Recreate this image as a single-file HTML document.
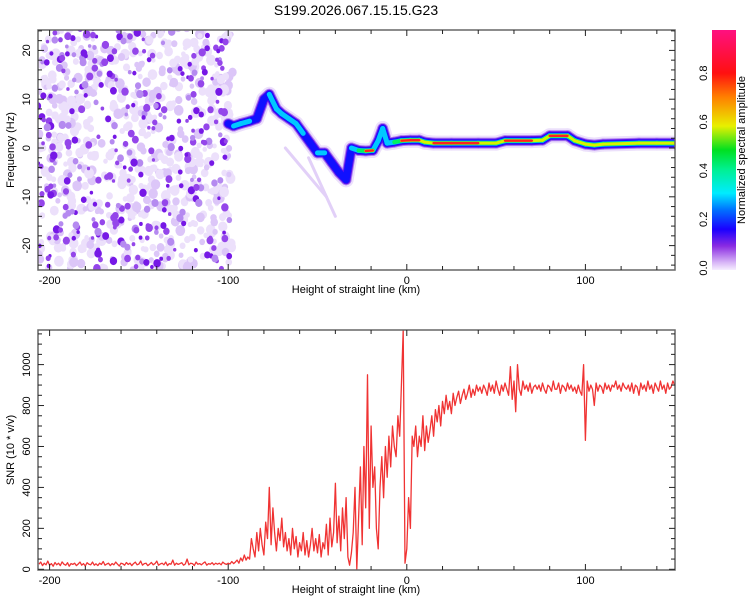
<!DOCTYPE html>
<html><head><meta charset="utf-8"><style>
html,body{margin:0;padding:0;background:#fff;}
svg{display:block;font-family:"Liberation Sans",sans-serif;}
</style></head><body>
<svg id="fig" width="750" height="600" viewBox="0 0 750 600">
<defs>
<linearGradient id="cbar" x1="0" y1="1" x2="0" y2="0">
<stop offset="0" stop-color="#f6eeff"/><stop offset="0.03" stop-color="#d9b8f7"/>
<stop offset="0.1" stop-color="#8a2be2"/><stop offset="0.17" stop-color="#1a00ff"/>
<stop offset="0.25" stop-color="#0070ff"/><stop offset="0.32" stop-color="#00ecff"/>
<stop offset="0.42" stop-color="#00f090"/><stop offset="0.5" stop-color="#00e020"/>
<stop offset="0.6" stop-color="#e8f000"/><stop offset="0.72" stop-color="#ff8000"/>
<stop offset="0.82" stop-color="#ff1010"/><stop offset="1" stop-color="#ff1080"/>
</linearGradient>
<clipPath id="clipTop"><rect x="38" y="30" width="637" height="240"/></clipPath>
<clipPath id="clipBot"><rect x="38" y="330" width="637" height="240"/></clipPath>
</defs>
<text x="356" y="15" font-size="14" text-anchor="middle">S199.2026.067.15.15.G23</text>
<g id="spec" clip-path="url(#clipTop)"></g>
<g id="snr" clip-path="url(#clipBot)"></g>
<g id="axes"></g>
<rect x="712" y="30" width="24" height="240" fill="url(#cbar)"/>
<text transform="translate(745,150) rotate(-90)" font-size="11" text-anchor="middle">Normalized spectral amplitude</text>
<text x="356" y="293" font-size="11" text-anchor="middle">Height of straight line (km)</text>
<text x="356" y="593" font-size="11" text-anchor="middle">Height of straight line (km)</text>
<text transform="translate(14,150) rotate(-90)" font-size="11" text-anchor="middle">Frequency (Hz)</text>
<text transform="translate(14,450) rotate(-90)" font-size="11" text-anchor="middle">SNR (10 * v/v)</text>
</svg>
<script>
const NS="http://www.w3.org/2000/svg";
// ---- data ----
const snrStart=-206, snrStep=1;
const snrValues=[
25,35,18,30,22,40,20,28,15,33, 22,30,18,36,25,20,32,15,28,24, 30,18,26,35,20,28,16,32,25,22,
35,20,27,18,30,24,38,20,26,30, 18,28,22,35,25,16,30,27,20,33, 24,30,18,28,35,22,26,40,20,28,
30,18,25,33,22,28,40,20,26,30, 22,35,18,28,25,45,20,30,24,28, 32,20,26,50,22,30,28,18,35,25,
28,22,30,36,20,28,25,32,22,30, 25,30,22,35,28,24,30,26,38,28, 35,45,30,55,40,70,45,60,50,150,
100,60,180,90,200,120,70,230,150,400, 120,300,180,90,200,140,250,110,180,90,
150,70,200,100,160,60,130,90,180,70, 140,60,120,200,90,150,80,170,60,130,
100,220,70,250,110,180,420,130,260,90, 300,150,350,60,20,80,180,400,0,250,
500,120,600,300,950,200,700,400,500,200, 100,400,550,350,600,450,650,500,700,600,
550,750,650,900,1170,30,100,350,200,650, 600,700,550,650,600,750,580,700,620,680,
750,650,780,720,800,700,820,760,850,780, 820,760,860,800,840,870,810,850,880,830,
860,900,840,880,850,900,870,890,860,900, 880,850,910,870,900,860,920,880,850,900,
870,910,880,850,990,830,920,770,1000,880, 850,920,880,900,870,910,860,890,900,880,
900,870,910,880,860,900,890,870,920,880, 880,910,860,900,890,870,910,880,900,870,
890,860,900,870,850,1000,630,920,870,900, 880,800,910,870,900,890,860,910,880,900,
870,900,890,920,880,900,870,910,890,880, 900,870,910,860,900,890,850,910,880,900,
870,920,880,900,860,910,890,870,920,880, 900,860,910,880,890,920,900];
const ridgeHeight=[-100,-97,-93,-88,-84,-80,-77,-73,-70,-66,-62,-58,-54,-50,-46,-42,-38,-34,-31,-27,-23,-19,-16,-13.5,-11,-7,-3,2,7,10,15,25,40,50,55,70,76,80,90,94,100,105,110,130,140,150];
const ridgeFreq=[5,4.5,5,5.5,6,10,11,8,7,6,5,3,1,-1,-1,-3,-5,-6.5,0,-0.5,-0.6,-0.5,1.5,4,1,1.2,1.5,1.6,1.6,1.2,1,1,1,1,1.5,1.5,1.6,2.5,2.5,1.5,0.8,0.6,0.8,1,1,1];
const ridgeAmp=[0.25,0.4,0.3,0.3,0.2,0.25,0.35,0.35,0.3,0.35,0.3,0.3,0.25,0.3,0.3,0.25,0.3,0.2,0.3,0.45,0.85,0.8,0.4,0.3,0.35,0.5,0.8,0.82,0.85,0.6,0.9,0.9,0.9,0.7,0.9,0.85,0.6,0.88,0.88,0.6,0.7,0.9,0.6,0.6,0.75,0.7];
const xTicks=[-200,-100,0,100];
const freqTicks=[-20,-10,0,10,20];
const snrTicks=[0,200,400,600,800,1000];
const cbTicks=[0.0,0.2,0.4,0.6,0.8];
// ---- axes ----
const X=v=>406.8+1.786*v;
const YF=f=>148-4.88*f;
const YS=s=>569.3-0.2047*s;
const YC=c=>268-243.5*c;
function mk(tag,attrs,parent){const e=document.createElementNS(NS,tag);for(const k in attrs)e.setAttribute(k,attrs[k]);parent.appendChild(e);return e;}
const spec=document.getElementById('spec'),snr=document.getElementById('snr'),axes=document.getElementById('axes');
// background noise texture (deterministic)
let seed=12345;const rnd=()=>{seed=(seed*1103515245+12345)%2147483648;return seed/2147483648;};
for(let pass=0;pass<2;pass++){
 for(let i=0;i<(pass?320:650);i++){
  const v=-207+rnd()*(pass?108:110), f=-25+rnd()*50;
  let c,r;
  if(pass===0){c=rnd()<0.7?'#ece0fb':'#dcc6f8';r=2.5+rnd()*3;}
  else{const q=rnd();c=q<0.25?'#b58af0':(q<0.65?'#9446ea':'#7618e6');r=1.8+rnd()*2.4;}
  const e=mk('ellipse',{cx:X(v),cy:YF(f),rx:r*0.9,ry:r,fill:c},spec);
  
  
 }
}
// faint streaks
[[-68,0,-45,-10],[-55,-2,-40,-14]].forEach(s=>{
  const l=mk('line',{x1:X(s[0]),y1:YF(s[1]),x2:X(s[2]),y2:YF(s[3]),stroke:'#e2d0f8','stroke-width':3,'stroke-linecap':'round'},spec);
  
  
});
// ridge layers
const levels=[[0,'#ece0fb',15],[0.05,'#b080f0',11],[0.12,'#5a10ee',9],[0.2,'#1010ff',7],[0.3,'#00c8ff',5],[0.45,'#00f060',4],[0.6,'#d8f000',3],[0.75,'#ff2020',2.4]];
levels.forEach(([lv,col,w])=>{
  for(let i=0;i<ridgeHeight.length-1;i++){
    const a=Math.min(ridgeAmp[i],ridgeAmp[i+1]);
    if(a<lv)continue;
    const l=mk('line',{x1:X(ridgeHeight[i]),y1:YF(ridgeFreq[i]),x2:X(ridgeHeight[i+1]),y2:YF(ridgeFreq[i+1]),stroke:col,'stroke-width':w,'stroke-linecap':'round'},spec);
    
    
  }
});
// SNR line
let d='';snrValues.forEach((s,i)=>{d+=(i?'L':'M')+X(snrStart+i*snrStep).toFixed(1)+','+YS(s).toFixed(1);});
const p=mk('path',{d:d,fill:'none',stroke:'#f03333','stroke-width':1.3,'stroke-linejoin':'round'},snr);


// frames & ticks
function frame(y0,y1,name){
  const r=mk('rect',{x:38,y:y0,width:637,height:y1-y0,fill:'none',stroke:'#666','stroke-width':1.5},axes);
  
  
  for(let v=-200;v<=150;v+=20){
    const len=(v%100===0)?6:4;
    mk('line',{x1:X(v),x2:X(v),y1:y0,y2:y0+len,stroke:'#222'},axes);
    mk('line',{x1:X(v),x2:X(v),y1:y1,y2:y1-len,stroke:'#222'},axes);
  }
  xTicks.forEach(v=>{
    const t=mk('text',{x:X(v),y:y1+14,'font-size':11,'text-anchor':'middle'},axes);
    t.textContent=String(v);
    
    
  });
}
frame(30,270,'spectrogram-frame');frame(330,570,'snr-frame');
for(let f=-24;f<=24;f+=2){const len=f%10===0?6:4;
  mk('line',{x1:38,x2:38+len,y1:YF(f),y2:YF(f),stroke:'#222'},axes);
  mk('line',{x1:675,x2:675-len,y1:YF(f),y2:YF(f),stroke:'#222'},axes);}
freqTicks.forEach(f=>{
  const t=mk('text',{transform:`translate(30,${YF(f)}) rotate(-90)`,'font-size':11,'text-anchor':'middle'},axes);
  t.textContent=String(f);
  
  
});
for(let s=0;s<=1150;s+=50){const len=s%200===0?6:4;
  mk('line',{x1:38,x2:38+len,y1:YS(s),y2:YS(s),stroke:'#222'},axes);
  mk('line',{x1:675,x2:675-len,y1:YS(s),y2:YS(s),stroke:'#222'},axes);}
snrTicks.forEach(s=>{
  const t=mk('text',{transform:`translate(30,${YS(s)}) rotate(-90)`,'font-size':11,'text-anchor':'middle'},axes);
  t.textContent=String(s);
  
  
});
cbTicks.forEach(c=>{
  const t=mk('text',{transform:`translate(707,${YC(c)}) rotate(-90)`,'font-size':11,'text-anchor':'middle'},axes);
  t.textContent=c.toFixed(1);
  
  
});
</script>
</body></html>
